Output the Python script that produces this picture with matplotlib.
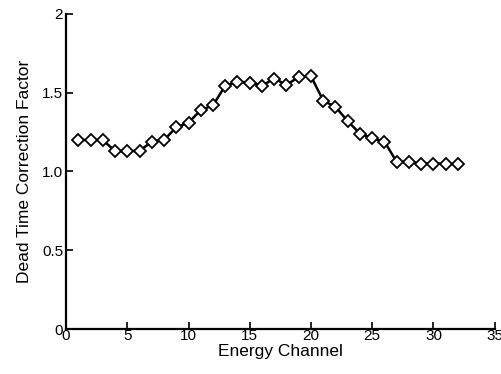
import numpy as np
from matplotlib import pyplot as plt

channel = np.arange(1, 33)
factor = [1.20, 1.20, 1.20, 1.13, 1.13, 1.13, 1.19, 1.20,
          1.28, 1.31, 1.39, 1.42, 1.545, 1.57, 1.565, 1.545,
          1.59, 1.55, 1.60, 1.605, 1.45, 1.41, 1.32, 1.24,
          1.21, 1.19, 1.06, 1.06, 1.05, 1.05, 1.05, 1.045]

x_ticks = [0, 5, 10, 15, 20, 25, 30, 35]
x_labels = ['0', '5', '10', '15', '20', '25', '30', '35']
y_ticks = [0, 0.5, 1.0, 1.5, 2]
y_labels = ['0', '0.5', '1.0', '1.5', '2']

plt.rcParams['font.family'] = ['Liberation Sans', 'DejaVu Sans']

fig = plt.figure(figsize=(5.02, 3.74), dpi=100)
ax = fig.add_axes([0.1315, 0.1203, 0.854, 0.8423])

ax.plot(channel, factor, color='black', lw=1.8, marker='D', ms=6,
        mfc='white', mec='black', mew=1.3)

ax.set_xlim(0, 35)
ax.set_ylim(0, 2)
ax.set_xticks(x_ticks)
ax.set_xticklabels(x_labels)
ax.set_yticks(y_ticks)
ax.set_yticklabels(y_labels)

for side in ['top', 'right']:
    ax.spines[side].set_visible(False)
for side in ['left', 'bottom']:
    ax.spines[side].set_linewidth(1.6)

ax.tick_params(direction='in', length=5, width=1.2, labelsize=11, pad=2)
ax.tick_params(axis='x', pad=0)

ax.set_xlabel('Energy Channel', fontsize=12.5, labelpad=1)
ax.set_ylabel('Dead Time Correction Factor', fontsize=12.5, labelpad=7)

fig.savefig('out.png', dpi=100)
